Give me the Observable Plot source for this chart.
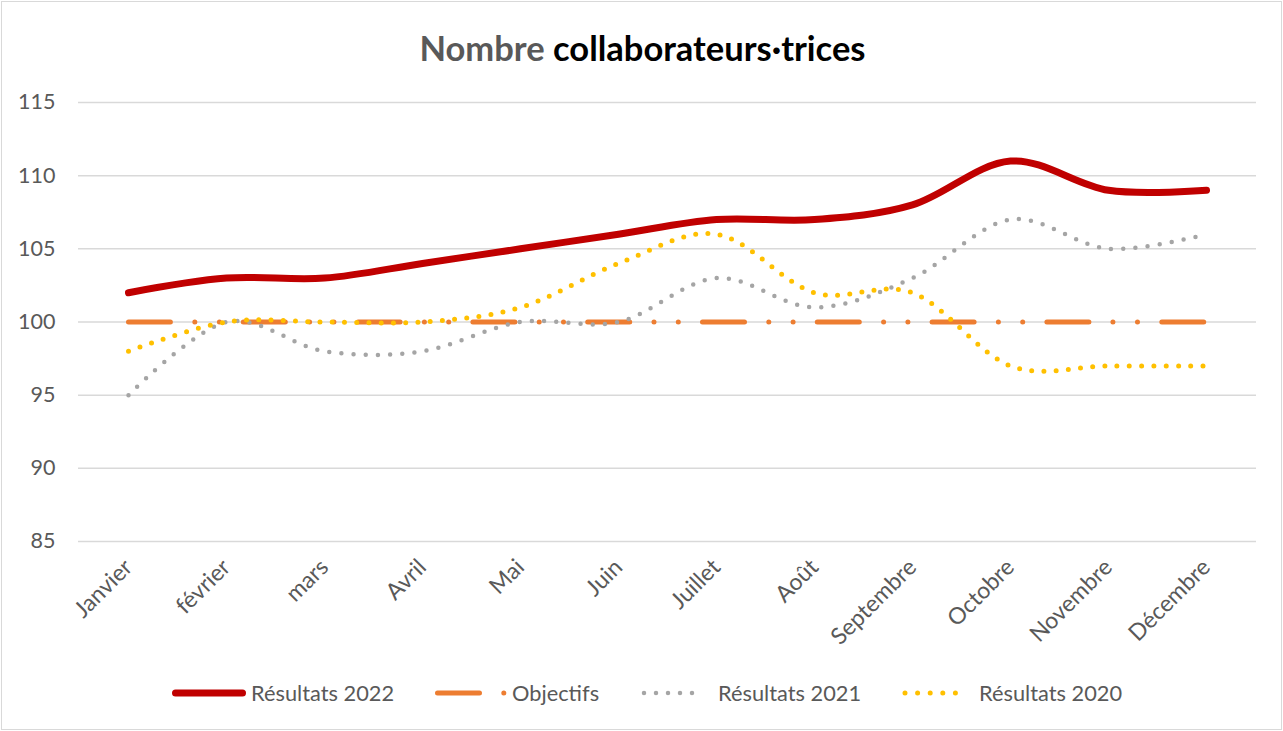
<!DOCTYPE html>
<html>
<head>
<meta charset="utf-8">
<script src="https://cdn.jsdelivr.net/npm/d3@7"></script>
<script src="https://cdn.jsdelivr.net/npm/@observablehq/plot@0.6"></script>
<style>
  html, body { margin: 0; padding: 0; background: #fff; }
  body { width: 1283px; height: 731px; position: relative; overflow: hidden; font-family: Lato, "Open Sans", sans-serif; }
  #frame { position: absolute; left: 1px; top: 1px; width: 1279px; height: 727px; border: 1px solid #d9d9d9; }
  #title { position: absolute; left: 0; top: 28px; width: 1285px; text-align: center; font-size: 34.5px; line-height: 40px; font-weight: 700; color: #000; }
  #title .grey { color: #595959; }
  #chart { position: absolute; left: 0; top: 80px; }
  #legend { position: absolute; left: 0; top: 670px; }
</style>
</head>
<body>
<div id="frame"></div>
<div id="title"><span class="grey">Nombre</span> collaborateurs·trices</div>
<div id="chart"></div>
<div id="legend"></div>
<script>
// ---- data ----
const months = ["Janvier", "février", "mars", "Avril", "Mai", "Juin", "Juillet", "Août", "Septembre", "Octobre", "Novembre", "Décembre"];
const resultats2022 = [102, 103, 103, 104, 105, 106, 107, 107, 108, 111, 109, 109];
const objectifs = [100, 100, 100, 100, 100, 100, 100, 100, 100, 100, 100, 100];
const resultats2021 = [95, 100, 98, 98, 100, 100, 103, 101, 103, 107, 105, 106];
const resultats2020 = [98, 100, 100, 100, 101, 104, 106, 102, 102, 97, 97, 97];
const yTicks = [85, 90, 95, 100, 105, 110, 115];
const seriesNames = ["Résultats 2022", "Objectifs", "Résultats 2021", "Résultats 2020"];

// ---- styles ----
const styles = [
  { stroke: "#C00000", strokeWidth: 7, strokeDasharray: null },
  { stroke: "#ED7D31", strokeWidth: 5, strokeDasharray: "42 24.3 0 24.3 0 24.2" },
  { stroke: "#A5A5A5", strokeWidth: 4.5, strokeDasharray: "0 12.2" },
  { stroke: "#FFC000", strokeWidth: 5, strokeDasharray: "0 12.25" }
];
const seriesValues = [resultats2022, objectifs, resultats2021, resultats2020];

const lineMarks = seriesValues.map((vals, k) => Plot.line(months, {
  x: d => d,
  y: (d, i) => vals[i],
  curve: "cardinal",
  tension: 0,
  stroke: styles[k].stroke,
  strokeWidth: styles[k].strokeWidth,
  strokeDasharray: styles[k].strokeDasharray,
  strokeLinecap: "round",
  strokeLinejoin: "round"
}));

const chart = Plot.plot({
  width: 1283,
  height: 600,
  marginLeft: 78,
  marginRight: 27,
  marginTop: 22,
  marginBottom: 139,
  style: { fontFamily: "Lato, sans-serif", fontSize: "21.5px", color: "#595959", background: "transparent", overflow: "visible" },
  x: { type: "point", domain: months, padding: 0.5, label: null },
  y: { domain: [85, 115], label: null },
  marks: [
    Plot.gridY(yTicks, { stroke: "#d9d9d9", strokeOpacity: 1, strokeWidth: 1.5 }),
    Plot.axisY(yTicks, { tickSize: 0, tickPadding: 23, label: null }),
    Plot.axisX({ tickRotate: -45, tickSize: 0, tickPadding: 22, fontSize: 23, label: null }),
    ...lineMarks
  ]
});
document.getElementById("chart").appendChild(chart);

// ---- legend ----
const legendItems = [
  { x0: 175.5, x1: 242.5, tx: 251 },
  { x0: 437.5, x1: 504, tx: 512 },
  { x0: 644, x1: 704, tx: 718 },
  { x0: 905, x1: 968, tx: 979 }
];
const lsvg = d3.select("#legend").append("svg").attr("width", 1283).attr("height", 46);
seriesNames.forEach((name, k) => {
  const it = legendItems[k];
  lsvg.append("path")
    .attr("d", `M${it.x0},23H${it.x1}`)
    .attr("fill", "none")
    .attr("stroke", styles[k].stroke)
    .attr("stroke-width", styles[k].strokeWidth)
    .attr("stroke-linecap", "round")
    .attr("stroke-dasharray", k === 3 ? "0 12.6" : (k === 2 ? "0 12" : styles[k].strokeDasharray));
  lsvg.append("text")
    .attr("x", it.tx).attr("y", 23)
    .attr("dy", "0.35em")
    .attr("fill", "#595959")
    .attr("font-family", "Lato, sans-serif")
    .attr("font-size", 21.8)
    .text(name);
});
</script>
</body>
</html>
